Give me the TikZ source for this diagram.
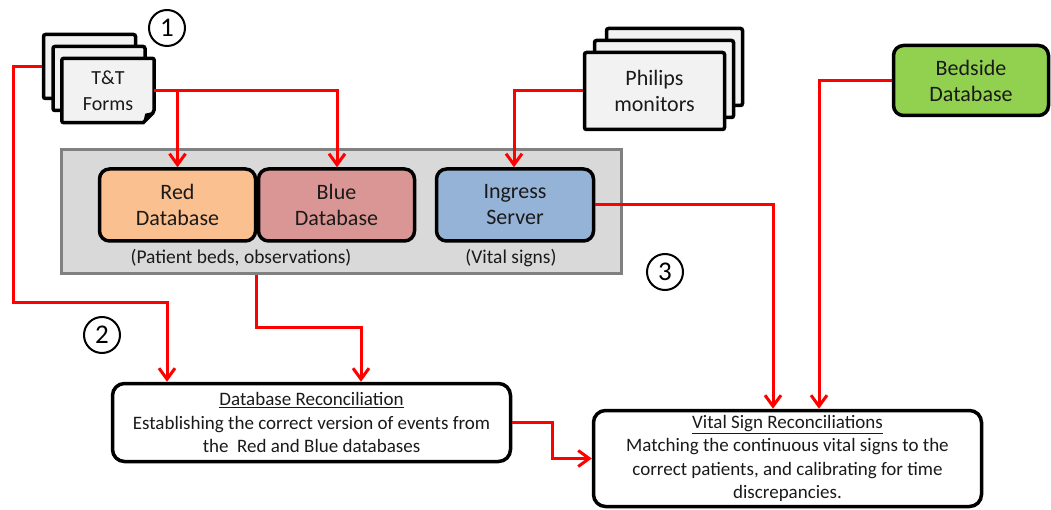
\documentclass[tikz,border=0pt]{standalone}
\usepackage{fontspec}
\setmainfont{Carlito}
\usetikzlibrary{arrows.meta}

\definecolor{paperfill}{HTML}{F2F2F2}
\definecolor{redfill}{HTML}{FAC090}
\definecolor{bluefill}{HTML}{D99694}
\definecolor{ingressfill}{HTML}{95B3D7}
\definecolor{bedfill}{HTML}{92D050}
\definecolor{groupfill}{HTML}{D9D9D9}
\definecolor{groupline}{HTML}{808080}
\definecolor{flowred}{HTML}{FF0000}
\definecolor{inktext}{HTML}{1A1A1A}

\tikzset{
  paper/.style={draw=black, line width=3.5pt, fill=paperfill, rounded corners=2pt, inner sep=0pt},
  dbbox/.style={draw=black, line width=3.5pt, rounded corners=10pt, inner sep=0pt,
    minimum height=72pt, align=center, text=inktext, font=\fontsize{22pt}{26pt}\selectfont},
  labeltext/.style={align=center, text=inktext, font=\fontsize{22pt}{26pt}\selectfont, inner sep=0pt},
  caption/.style={text=inktext, inner sep=0pt, font=\fontsize{19.5pt}{22pt}\selectfont},
  procbox/.style={draw=black, line width=3.5pt, rounded corners=12pt, inner sep=0pt,
    align=center, text=inktext, font=\fontsize{19pt}{23.3pt}\selectfont},
  numcircle/.style={circle, draw=black, line width=2pt, minimum size=36pt, inner sep=0pt,
    font=\fontsize{27pt}{27pt}\selectfont},
  flow/.style={draw=flowred, line width=3pt, line join=miter,
    -{Straight Barb[length=11pt,width=16pt,line width=3pt]}},
}

\begin{document}
\begin{tikzpicture}[x=1pt,y=-1pt]
\useasboundingbox (0,0) rectangle (1051,510);

% T&T forms: a stack of three sheets, the front one with a folded corner
\node[paper, minimum width=92pt, minimum height=64pt] (ttback) at (89.5,66.5) {};
\node[paper, minimum width=92pt, minimum height=64pt] (ttmid) at (99,78.5) {};
\node[labeltext, minimum width=92pt, minimum height=64pt] (tt) at (108,90.5) {};
\draw[line width=3.5pt, fill=paperfill, rounded corners=2pt]
  (tt.north west) -- (tt.north east) -- ([yshift=11pt]tt.south east)
  [sharp corners] -- ([xshift=-11pt]tt.south east)
  [rounded corners=2pt] -- (tt.south west) -- cycle;
\fill[black] ([yshift=11pt]tt.south east) -- ([xshift=-11pt]tt.south east)
  -- ([xshift=-9pt,yshift=9pt]tt.south east) -- cycle;
\node[labeltext, font=\fontsize{20pt}{26pt}\selectfont] at (tt) {T\&T\\Forms};

% Philips monitors: a stack of three sheets
\node[paper, minimum width=136pt, minimum height=77pt] (phback) at (674.5,67) {};
\node[paper, minimum width=139pt, minimum height=77pt] (phmid) at (664,79) {};
\node[paper, labeltext, minimum width=140pt, minimum height=77pt] (ph) at (654.5,91) {Philips\\monitors};

% Bedside database
\node[dbbox, fill=bedfill, minimum width=155pt, minimum height=70pt] (bed) at (971,80.5) {Bedside\\Database};

% Group holding the hospital databases
\node[draw=groupline, fill=groupfill, line width=3pt, minimum width=560pt, minimum height=124pt,
  inner sep=0pt] (grp) at (341.5,211.5) {};
\node[dbbox, fill=redfill, minimum width=156pt] (red) at (177.5,205) {Red\\Database};
\node[dbbox, fill=bluefill, minimum width=156pt] (blue) at (336.5,205) {Blue\\Database};
\node[dbbox, fill=ingressfill, minimum width=157pt] (ing) at (515,205) {Ingress\\Server};
\node[caption] (capdb) at (241,258) {(Patient beds, observations)};
\node[caption] (capvs) at (511,258) {(Vital signs)};

% Reconciliation steps
\node[procbox, minimum width=398pt, minimum height=78pt] (dbr) at (311.5,422.5)
  {\underline{Database Reconciliation}\\Establishing the correct version of events from\\the\ \ Red and Blue databases};
\node[procbox, minimum width=388pt, minimum height=96pt] (vsr) at (787.5,458.5)
  {\underline{Vital Sign Reconciliations}\\Matching the continuous vital signs to the\\correct patients, and calibrating for time\\discrepancies.};

% Step numbers
\node[numcircle] (n1) at (167,28) {1};
\node[numcircle] (n2) at (102,335) {2};
\node[numcircle] (n3) at (665,272) {3};

% Data flows
\coordinate (lbend) at (13,303);
\draw[flow] (tt.east) -| (red.north);
\draw[flow] (tt.east) -| ([xshift=0.5pt]blue.north);
\draw[flow] (ph.west) -| ([xshift=-1pt]ing.north);
\draw[flow] (ttback.west) -| (lbend) -| ([xshift=-144.5pt]dbr.north);
\draw[flow] ([xshift=-85.5pt]grp.south) -- ++(0,52) -| ([xshift=49.5pt]dbr.north);
\draw[flow] (ing.east) -| ([xshift=-14.5pt]vsr.north);
\draw[flow] (bed.west) -| ([xshift=31.5pt]vsr.north);
\draw[flow] (dbr.east) -- ++(40,0) |- (vsr.west);
\end{tikzpicture}
\end{document}
